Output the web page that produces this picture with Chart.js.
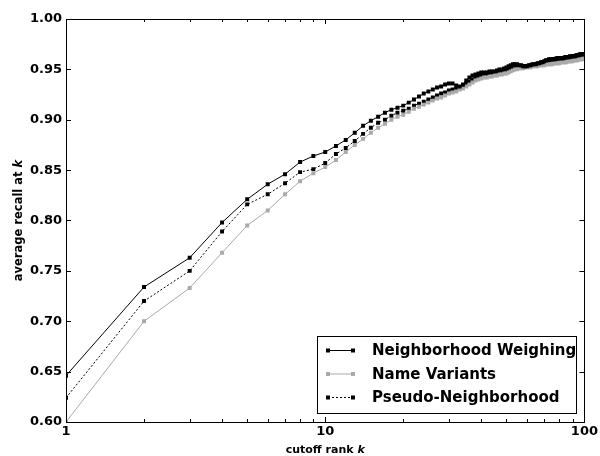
<!DOCTYPE html>
<html>
<head>
<meta charset="utf-8">
<script src="https://cdn.jsdelivr.net/npm/chart.js@4/dist/chart.umd.min.js"></script>
<style>
  html, body { margin: 0; padding: 0; background: #fff; }
</style>
</head>
<body>
<canvas id="chart" width="600" height="456"></canvas>
<script>
const ranks = [
  1, 2, 3, 4, 5, 6, 7, 8, 9, 10,
  11, 12, 13, 14, 15, 16, 17, 18, 19, 20,
  21, 22, 23, 24, 25, 26, 27, 28, 29, 30,
  31, 32, 33, 34, 35, 36, 37, 38, 39, 40,
  41, 42, 43, 44, 45, 46, 47, 48, 49, 50,
  51, 52, 53, 54, 55, 56, 57, 58, 59, 60,
  61, 62, 63, 64, 65, 66, 67, 68, 69, 70,
  71, 72, 73, 74, 75, 76, 77, 78, 79, 80,
  81, 82, 83, 84, 85, 86, 87, 88, 89, 90,
  91, 92, 93, 94, 95, 96, 97, 98, 99, 100
];

const neighborhoodWeighing = [
  0.646, 0.734, 0.763, 0.798, 0.821, 0.836, 0.846, 0.858, 0.864, 0.868,
  0.874, 0.880, 0.887, 0.894, 0.899, 0.903, 0.907, 0.910, 0.912, 0.914,
  0.917, 0.920, 0.923, 0.926, 0.928, 0.930, 0.932, 0.933, 0.935, 0.936,
  0.936, 0.934, 0.933, 0.935, 0.939, 0.942, 0.944, 0.945, 0.946, 0.947,
  0.947, 0.947, 0.948, 0.948, 0.948, 0.949, 0.950, 0.950, 0.951, 0.952,
  0.953, 0.954, 0.955, 0.955, 0.955, 0.954, 0.954, 0.953, 0.953, 0.953,
  0.954, 0.954, 0.955, 0.955, 0.955, 0.956, 0.956, 0.957, 0.957, 0.958,
  0.959, 0.959, 0.960, 0.960, 0.960, 0.960, 0.960, 0.961, 0.961, 0.961,
  0.961, 0.961, 0.961, 0.962, 0.962, 0.962, 0.962, 0.963, 0.963, 0.963,
  0.963, 0.963, 0.964, 0.964, 0.964, 0.965, 0.965, 0.965, 0.965, 0.965
];

const nameVariants = [
  0.600, 0.700, 0.733, 0.768, 0.795, 0.810, 0.826, 0.839, 0.847, 0.853,
  0.860, 0.868, 0.875, 0.881, 0.887, 0.892, 0.896, 0.900, 0.903, 0.905,
  0.908, 0.911, 0.913, 0.915, 0.917, 0.919, 0.921, 0.922, 0.924, 0.926,
  0.927, 0.928, 0.930, 0.931, 0.933, 0.935, 0.937, 0.939, 0.940, 0.941,
  0.942, 0.942, 0.943, 0.943, 0.944, 0.944, 0.945, 0.945, 0.946, 0.946,
  0.947, 0.948, 0.949, 0.950, 0.950, 0.951, 0.951, 0.951, 0.952, 0.952,
  0.952, 0.952, 0.953, 0.953, 0.953, 0.953, 0.954, 0.954, 0.954, 0.954,
  0.955, 0.955, 0.955, 0.955, 0.955, 0.956, 0.956, 0.956, 0.956, 0.956,
  0.957, 0.957, 0.957, 0.957, 0.957, 0.958, 0.958, 0.958, 0.958, 0.958,
  0.959, 0.959, 0.959, 0.959, 0.960, 0.960, 0.960, 0.960, 0.961, 0.961
];

const pseudoNeighborhood = [
  0.624, 0.720, 0.750, 0.789, 0.816, 0.826, 0.837, 0.848, 0.851, 0.857,
  0.866, 0.872, 0.879, 0.886, 0.892, 0.897, 0.900, 0.904, 0.907, 0.909,
  0.911, 0.914, 0.916, 0.918, 0.920, 0.922, 0.924, 0.926, 0.927, 0.929,
  0.930, 0.931, 0.932, 0.934, 0.936, 0.938, 0.940, 0.942, 0.943, 0.944,
  0.944, 0.945, 0.945, 0.946, 0.946, 0.947, 0.947, 0.948, 0.948, 0.949,
  0.950, 0.951, 0.952, 0.953, 0.953, 0.953, 0.953, 0.953, 0.953, 0.953,
  0.953, 0.954, 0.954, 0.954, 0.955, 0.955, 0.956, 0.956, 0.957, 0.957,
  0.958, 0.958, 0.959, 0.959, 0.959, 0.960, 0.960, 0.960, 0.960, 0.961,
  0.961, 0.961, 0.961, 0.961, 0.962, 0.962, 0.962, 0.962, 0.962, 0.963,
  0.963, 0.963, 0.963, 0.963, 0.964, 0.964, 0.964, 0.964, 0.965, 0.965
];

const yTicks = [0.60, 0.65, 0.70, 0.75, 0.80, 0.85, 0.90, 0.95, 1.00];
const xMajorTicks = [1, 10, 100];
const xMinorTicks = [2, 3, 4, 5, 6, 7, 8, 9, 20, 30, 40, 50, 60, 70, 80, 90];

const FONT = "'DejaVu Sans', sans-serif";
const GRAY = "#aaaaaa";

const points = (vals) => ranks.map((k, i) => ({ x: k, y: vals[i] }));

// frame, inward ticks, axis titles with italic k, legend inside the plot
const decorPlugin = {
  id: "decor",
  afterDraw(chart) {
    const ctx = chart.ctx;
    const { left, right, top, bottom } = chart.chartArea;
    const xs = chart.scales.x;
    const ys = chart.scales.y;
    const px = (v) => Math.round(v) + 0.5;

    ctx.save();
    ctx.strokeStyle = "#000";
    ctx.lineWidth = 1;
    ctx.strokeRect(px(left), px(top), Math.round(right) - Math.round(left), Math.round(bottom) - Math.round(top));

    ctx.beginPath();
    yTicks.forEach((v) => {
      const y = px(ys.getPixelForValue(v));
      ctx.moveTo(left, y); ctx.lineTo(left + 5, y);
      ctx.moveTo(right, y); ctx.lineTo(right - 5, y);
    });
    xMajorTicks.forEach((v) => {
      const x = px(xs.getPixelForValue(v));
      ctx.moveTo(x, bottom); ctx.lineTo(x, bottom - 5);
      ctx.moveTo(x, top); ctx.lineTo(x, top + 5);
    });
    xMinorTicks.forEach((v) => {
      const x = px(xs.getPixelForValue(v));
      ctx.moveTo(x, bottom); ctx.lineTo(x, bottom - 3);
      ctx.moveTo(x, top); ctx.lineTo(x, top + 3);
    });
    ctx.stroke();

    // axis titles
    ctx.fillStyle = "#000";
    ctx.textBaseline = "alphabetic";
    ctx.textAlign = "left";
    const drawTitle = (plain, it, size) => {
      ctx.font = `bold ${size}px ${FONT}`;
      const w1 = ctx.measureText(plain).width;
      ctx.font = `italic bold ${size}px ${FONT}`;
      const w2 = ctx.measureText(it).width;
      const x0 = -(w1 + w2) / 2;
      ctx.font = `bold ${size}px ${FONT}`;
      ctx.fillText(plain, x0, 0);
      ctx.font = `italic bold ${size}px ${FONT}`;
      ctx.fillText(it, x0 + w1, 0);
    };
    ctx.save();
    ctx.translate((left + right) / 2, 453);
    drawTitle("cutoff rank ", "k", 11);
    ctx.restore();
    ctx.save();
    ctx.translate(22, (top + bottom) / 2);
    ctx.rotate(-Math.PI / 2);
    drawTitle("average recall at ", "k", 11.5);
    ctx.restore();

    // legend
    const bx = 317.5, by = 336.5, bw = 259, bh = 77;
    ctx.fillStyle = "#fff";
    ctx.fillRect(bx, by, bw, bh);
    ctx.strokeStyle = "#000";
    ctx.strokeRect(bx, by, bw, bh);
    const rowY = [350.5, 374, 397.5];
    chart.data.datasets.forEach((ds, i) => {
      const y = rowY[i];
      ctx.strokeStyle = ds.borderColor;
      ctx.lineWidth = 1;
      ctx.setLineDash(ds.borderDash || []);
      ctx.beginPath();
      ctx.moveTo(328, y); ctx.lineTo(353, y);
      ctx.stroke();
      ctx.setLineDash([]);
      ctx.fillStyle = ds.pointBackgroundColor;
      ctx.fillRect(326, y - 2, 4, 4);
      ctx.fillRect(351, y - 2, 4, 4);
      ctx.fillStyle = "#000";
      ctx.font = `bold 15px ${FONT}`;
      ctx.textBaseline = "middle";
      ctx.fillText(ds.label, 372, y + 1);
    });
    ctx.restore();
  },
};

new Chart(document.getElementById("chart"), {
  type: "line",
  data: {
    datasets: [
      {
        label: "Neighborhood Weighing",
        data: points(neighborhoodWeighing),
        borderColor: "#000",
        pointBackgroundColor: "#000",
      },
      {
        label: "Name Variants",
        data: points(nameVariants),
        borderColor: GRAY,
        pointBackgroundColor: GRAY,
      },
      {
        label: "Pseudo-Neighborhood",
        data: points(pseudoNeighborhood),
        borderColor: "#000",
        pointBackgroundColor: "#000",
        borderDash: [2, 2],
      },
    ],
  },
  options: {
    responsive: false,
    animation: false,
    layout: { padding: { left: 0, right: 15, top: 19, bottom: 0 } },
    elements: {
      line: { borderWidth: 1, tension: 0, fill: false },
      point: { pointStyle: "rect", radius: 2.8, borderWidth: 0, hoverRadius: 2.8 },
    },
    plugins: {
      legend: { display: false },
      tooltip: { enabled: false },
    },
    scales: {
      x: {
        type: "logarithmic",
        min: 1,
        max: 100,
        grid: { display: false, drawTicks: false },
        border: { display: false },
        afterBuildTicks: (s) => { s.ticks = xMajorTicks.map((v) => ({ value: v })); },
        afterFit: (s) => { s.height = 34; },
        ticks: {
          autoSkip: false,
          maxRotation: 0,
          padding: 2,
          color: "#000",
          font: { family: FONT, size: 13, weight: "bold" },
          callback: (v) => String(v),
        },
      },
      y: {
        min: 0.6,
        max: 1.0,
        grid: { display: false, drawTicks: false },
        border: { display: false },
        afterBuildTicks: (s) => { s.ticks = yTicks.map((v) => ({ value: v })); },
        afterFit: (s) => { s.width = 66; },
        ticks: {
          padding: 4,
          color: "#000",
          font: { family: FONT, size: 13, weight: "bold" },
          callback: (v) => v.toFixed(2),
        },
      },
    },
  },
  plugins: [decorPlugin],
});
</script>
</body>
</html>
